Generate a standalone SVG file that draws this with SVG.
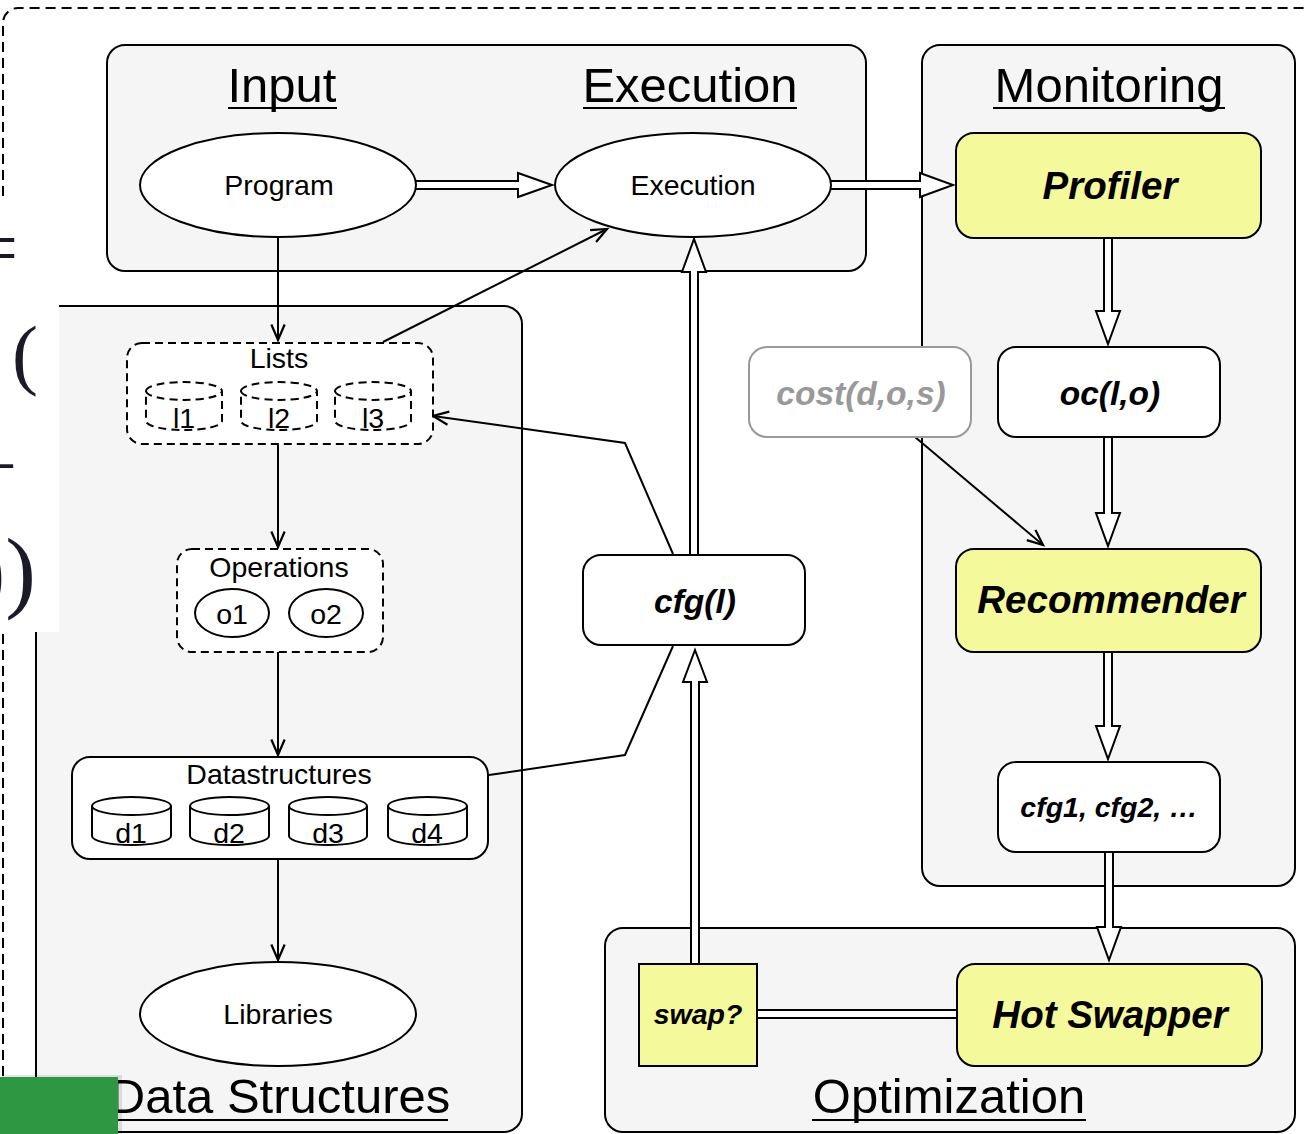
<svg xmlns="http://www.w3.org/2000/svg" width="1308" height="1134" viewBox="0 0 1308 1134">
  <defs>
    <style>
      .panel { fill: #f5f5f5; stroke: #000; stroke-width: 2; }
      .node { fill: #fff; stroke: #000; stroke-width: 2; }
      .hot { fill: #f4f99b; stroke: #000; stroke-width: 2; }
      .dash { fill: #fff; stroke: #000; stroke-width: 2; stroke-dasharray: 8 5; }
      .ghost { fill: #fff; stroke: #999; stroke-width: 2; }
      .title { font-family: "Liberation Sans", Arial, Helvetica, sans-serif; font-size: 49px; fill: #000; text-anchor: middle; }
      .lbl { font-family: "Liberation Sans", Arial, Helvetica, sans-serif; font-size: 28.5px; fill: #000; text-anchor: middle; }
      .em { font-family: "Liberation Sans", Arial, Helvetica, sans-serif; font-weight: bold; font-style: italic; fill: #000; text-anchor: middle; }
      .uline { stroke: #000; stroke-width: 2; }
      .flex { fill: #fff; stroke: #000; stroke-width: 2; stroke-linejoin: miter; }
      .wire { fill: none; stroke: #000; stroke-width: 2; }
      .math { font-family: "Liberation Serif", "Times New Roman", serif; fill: #1b1b28; }
    </style>
    <marker id="open" markerUnits="userSpaceOnUse" markerWidth="20" markerHeight="20" viewBox="-16 -8 18 16" refX="0" refY="0" orient="auto" overflow="visible">
      <path d="M-14,-6 L0,0 L-14,6" fill="none" stroke="#000" stroke-width="2"/>
    </marker>
  </defs>

  <rect x="0" y="0" width="1308" height="1134" fill="#fff"/>

  <!-- outer dashed frame -->
  <path d="M3,1140 L3,23 A15,15 0 0 1 18,8 L1320,8" fill="none" stroke="#000" stroke-width="2" stroke-dasharray="10 6"/>

  <!-- panels -->
  <g id="panel-input">
    <rect class="panel" x="107" y="45" width="759" height="226" rx="18"/>
    <text class="title" x="282" y="102">Input</text>
    <line class="uline" x1="228" y1="108" x2="337" y2="108"/>
    <text class="title" x="690" y="102">Execution</text>
    <line class="uline" x1="583" y1="108" x2="797" y2="108"/>
  </g>
  <g id="panel-monitoring">
    <rect class="panel" x="922" y="45" width="373" height="841" rx="18"/>
    <text class="title" x="1109" y="102">Monitoring</text>
    <line class="uline" x1="993" y1="108" x2="1225" y2="108"/>
  </g>
  <g id="panel-datastructures">
    <rect class="panel" x="36" y="306" width="486" height="826" rx="18"/>
    <text class="title" x="280" y="1113">Data Structures</text>
    <line class="uline" x1="113" y1="1120" x2="448" y2="1120"/>
  </g>
  <g id="panel-optimization">
    <rect class="panel" x="605" y="928" width="690" height="204" rx="18"/>
    <text class="title" x="949" y="1113">Optimization</text>
    <line class="uline" x1="812" y1="1120" x2="1086" y2="1120"/>
  </g>

  <!-- connectors -->
  <g id="connectors">
    <path class="flex" d="M410,181 L518,181 L518,173 L552,185 L518,197 L518,189 L410,189 Z"/>
    <path class="flex" d="M826,181 L920,181 L920,173 L953,185 L920,197 L920,189 L826,189 Z"/>
    <path class="flex" d="M1104,232 L1104,311 L1096,311 L1108,344 L1120,311 L1112,311 L1112,232 Z"/>
    <path class="flex" d="M1104,432 L1104,513 L1096,513 L1108,546 L1120,513 L1112,513 L1112,432 Z"/>
    <path class="flex" d="M1104,646 L1104,726 L1096,726 L1108,759 L1120,726 L1112,726 L1112,646 Z"/>
    <path class="flex" d="M1105,846 L1105,927 L1097,927 L1109,960 L1121,927 L1113,927 L1113,846 Z"/>
    <path class="flex" d="M690,560 L690,272 L682,272 L694,239 L706,272 L698,272 L698,560 Z"/>
    <path class="flex" d="M691,970 L691,682 L683,682 L695,650 L707,682 L699,682 L699,970 Z"/>
    <path class="flex" d="M750,1010 L963,1010 L963,1018 L750,1018 Z"/>

    <line class="wire" x1="278" y1="237" x2="278" y2="340" marker-end="url(#open)"/>
    <line class="wire" x1="278" y1="445" x2="278" y2="547" marker-end="url(#open)"/>
    <line class="wire" x1="278" y1="652" x2="278" y2="755" marker-end="url(#open)"/>
    <line class="wire" x1="278" y1="859" x2="278" y2="960" marker-end="url(#open)"/>
    <line class="wire" x1="383" y1="342" x2="607" y2="229" marker-end="url(#open)"/>
    <polyline class="wire" points="673,554 625,443 433,416" marker-end="url(#open)"/>
    <polyline class="wire" points="489,775 625,755 673,646"/>
    <line class="wire" x1="915" y1="437" x2="1043" y2="545" marker-end="url(#open)"/>
  </g>

  <!-- nodes -->
  <g id="node-program">
    <ellipse class="node" cx="278" cy="185" rx="138" ry="52"/>
    <text class="lbl" x="279" y="195">Program</text>
  </g>
  <g id="node-execution">
    <ellipse class="node" cx="693" cy="185" rx="138" ry="52"/>
    <text class="lbl" x="693" y="195">Execution</text>
  </g>
  <g id="node-profiler">
    <rect class="hot" x="956" y="133" width="305" height="105" rx="18"/>
    <text class="em" x="1110" y="199" font-size="38.5">Profiler</text>
  </g>
  <g id="node-cost">
    <rect class="ghost" x="749" y="347" width="222" height="90" rx="18"/>
    <text class="em" x="861" y="405" font-size="33.5" style="fill:#999">cost(d,o,s)</text>
  </g>
  <g id="node-oc">
    <rect class="node" x="998" y="347" width="222" height="90" rx="18"/>
    <text class="em" x="1110" y="405" font-size="33.5">oc(l,o)</text>
  </g>
  <g id="node-recommender">
    <rect class="hot" x="956" y="549" width="305" height="103" rx="18"/>
    <text class="em" x="1111" y="613" font-size="38.5">Recommender</text>
  </g>
  <g id="node-cfgs">
    <rect class="node" x="998" y="762" width="222" height="90" rx="18"/>
    <text class="em" x="1109" y="817" font-size="28.5">cfg1, cfg2, …</text>
  </g>
  <g id="node-cfg">
    <rect class="node" x="583" y="555" width="222" height="90" rx="18"/>
    <text class="em" x="695" y="613" font-size="33.5">cfg(l)</text>
  </g>
  <g id="node-hotswapper">
    <rect class="hot" x="957" y="964" width="305" height="102" rx="18"/>
    <text class="em" x="1110" y="1028" font-size="38.5">Hot Swapper</text>
  </g>
  <g id="node-swap">
    <rect class="hot" x="639" y="964" width="118" height="102"/>
    <text class="em" x="698" y="1024" font-size="28.5">swap?</text>
  </g>

  <g id="node-lists">
    <rect class="dash" x="127" y="343" width="306" height="101" rx="15"/>
    <text class="lbl" x="279" y="368">Lists</text>
    <path class="dash" d="M146,391 A38,9 0 0 1 222,391 L222,421 A38,9 0 0 1 146,421 Z M146,391 A38,9 0 0 0 222,391"/>
    <text class="lbl" x="184" y="428">l1</text>
    <path class="dash" d="M241,391 A38,9 0 0 1 317,391 L317,421 A38,9 0 0 1 241,421 Z M241,391 A38,9 0 0 0 317,391"/>
    <text class="lbl" x="279" y="428">l2</text>
    <path class="dash" d="M335,391 A38,9 0 0 1 411,391 L411,421 A38,9 0 0 1 335,421 Z M335,391 A38,9 0 0 0 411,391"/>
    <text class="lbl" x="373" y="428">l3</text>
  </g>
  <g id="node-operations">
    <rect class="dash" x="177" y="549" width="206" height="103" rx="15"/>
    <text class="lbl" x="279" y="577">Operations</text>
    <ellipse class="node" cx="232" cy="613" rx="37" ry="24"/>
    <text class="lbl" x="232" y="624">o1</text>
    <ellipse class="node" cx="326" cy="613" rx="37" ry="24"/>
    <text class="lbl" x="326" y="624">o2</text>
  </g>
  <g id="node-datastructures">
    <rect class="node" x="72" y="757" width="416" height="102" rx="18"/>
    <text class="lbl" x="279" y="784">Datastructures</text>
    <path class="node" d="M92,806 A39.5,9 0 0 1 171,806 L171,836 A39.5,9 0 0 1 92,836 Z M92,806 A39.5,9 0 0 0 171,806"/>
    <text class="lbl" x="131" y="843">d1</text>
    <path class="node" d="M190,806 A39.5,9 0 0 1 269,806 L269,836 A39.5,9 0 0 1 190,836 Z M190,806 A39.5,9 0 0 0 269,806"/>
    <text class="lbl" x="229" y="843">d2</text>
    <path class="node" d="M289,806 A39,9 0 0 1 367,806 L367,836 A39,9 0 0 1 289,836 Z M289,806 A39,9 0 0 0 367,806"/>
    <text class="lbl" x="328" y="843">d3</text>
    <path class="node" d="M388,806 A39.5,9 0 0 1 467,806 L467,836 A39.5,9 0 0 1 388,836 Z M388,806 A39.5,9 0 0 0 467,806"/>
    <text class="lbl" x="427" y="843">d4</text>
  </g>
  <g id="node-libraries">
    <ellipse class="node" cx="278" cy="1014" rx="138" ry="52"/>
    <text class="lbl" x="278" y="1024">Libraries</text>
  </g>

  <!-- white strip with formula fragments on the left edge -->
  <rect x="0" y="202" width="59" height="430" fill="#fff"/>
  <text class="math" x="-26" y="274" font-size="78">=</text>
  <text class="math" x="12" y="380" font-size="78">(</text>
  <text class="math" x="-27" y="492" font-size="78">−</text>
  <text class="math" x="36" y="601" font-size="92" text-anchor="end">))</text>

  <!-- green block, bottom-left -->
  <rect x="2" y="1075" width="120" height="61" fill="#000" opacity="0.1"/>
  <rect x="0" y="1077" width="118" height="57" fill="#2e9742"/>
</svg>
